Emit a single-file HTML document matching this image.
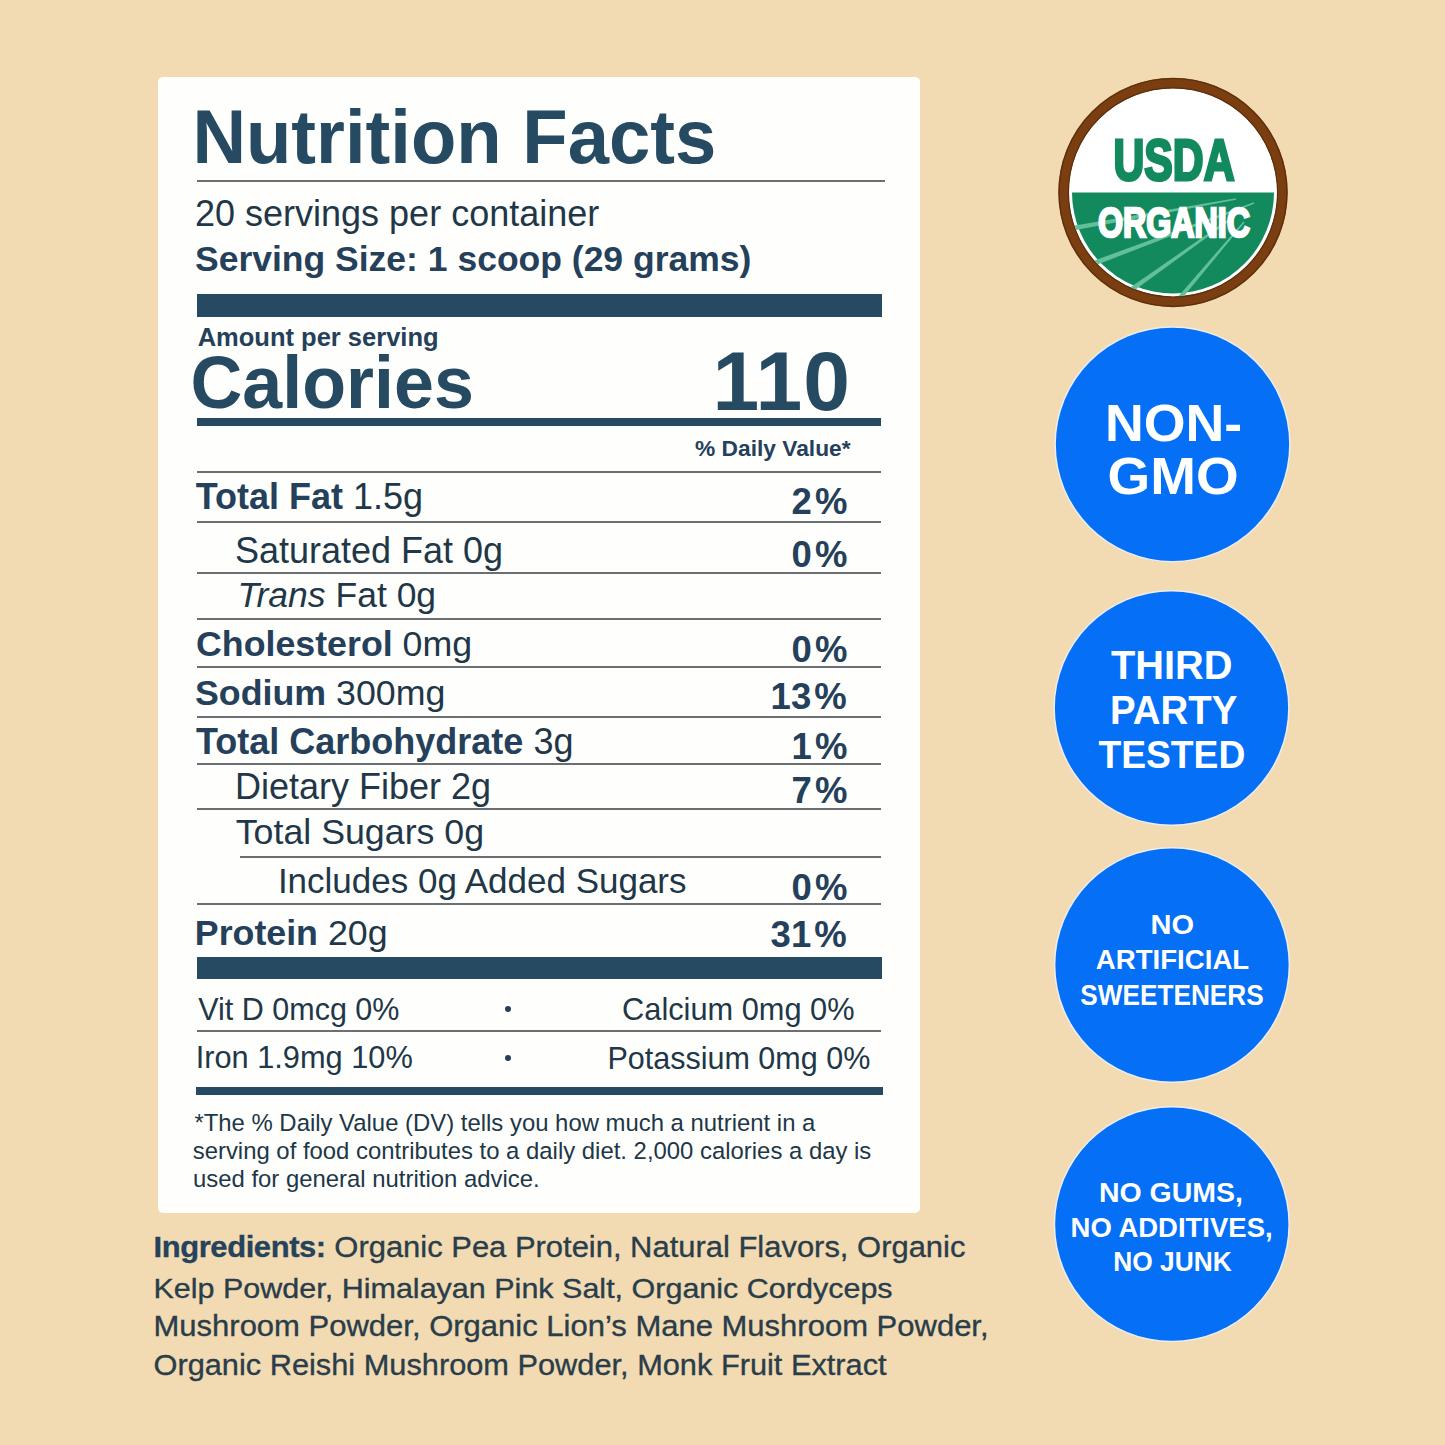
<!DOCTYPE html>
<html><head><meta charset="utf-8"><title>Nutrition Facts</title>
<style>
html,body{margin:0;padding:0;}
body{width:1445px;height:1445px;background:#f2dab2;position:relative;overflow:hidden;font-family:"Liberation Sans",sans-serif;}
.card{position:absolute;left:158px;top:77px;width:762px;height:1136px;background:#fefefd;border-radius:5px;}
.t{position:absolute;white-space:pre;}
.r{position:absolute;}
.dot{position:absolute;width:6px;height:6px;border-radius:50%;background:#25405a;}
.svg{position:absolute;left:0;top:0;}
.ing{-webkit-text-stroke:0.35px currentColor;}
</style></head><body>
<div class="card"></div>
<div class="t" style="left:192.40px;top:100.98px;font-size:74.25px;line-height:74.25px;color:#264a62;transform-origin:0 61.92px;transform:scaleY(1.035);"><span style="font-weight:700">Nutrition Facts</span></div>
<div class="r" style="left:197px;top:180px;width:688px;height:2px;background:#6c6f72"></div>
<div class="t" style="left:195.00px;top:196.28px;font-size:36px;line-height:36px;color:#25405a;"><span style="font-weight:400;color:#213747">20 servings per container</span></div>
<div class="t" style="left:195.00px;top:241.89px;font-size:35.5px;line-height:35.5px;color:#25405a;"><span style="font-weight:700">Serving Size: 1 scoop (29 grams)</span></div>
<div class="r" style="left:197px;top:294px;width:685px;height:23px;background:#264a62"></div>
<div class="t" style="left:197.70px;top:324.73px;font-size:25.5px;line-height:25.5px;color:#25405a;"><span style="font-weight:700">Amount per serving</span></div>
<div class="t" style="left:190.50px;top:347.52px;font-size:71.8px;line-height:71.8px;color:#264a62;transform-origin:0 59.88px;transform:scaleY(1.02);"><span style="font-weight:700">Calories</span></div>
<div class="t" style="left:712.50px;top:339.14px;font-size:84px;line-height:84px;color:#264a62;letter-spacing:1px"><span style="font-weight:700">110</span></div>
<div class="r" style="left:197px;top:418px;width:684px;height:8px;background:#264a62"></div>
<div class="t" style="left:695.00px;top:436.83px;font-size:22.75px;line-height:22.75px;color:#25405a;"><span style="font-weight:700">% Daily Value*</span></div>
<div class="r" style="left:197px;top:471px;width:684px;height:2px;background:#6c6f72"></div>
<div class="t" style="left:195.70px;top:479.18px;font-size:36px;line-height:36px;color:#25405a;"><span style="font-weight:700">Total Fat </span><span style="font-weight:400;color:#213747">1.5g</span></div>
<div class="t" style="left:791.60px;top:483.86px;font-size:36.5px;line-height:36.5px;color:#25405a;"><span style="font-weight:700"><span style="letter-spacing:3px">2</span>%</span></div>
<div class="t" style="left:234.90px;top:533.18px;font-size:36px;line-height:36px;color:#25405a;"><span style="font-weight:400;color:#213747">Saturated Fat 0g</span></div>
<div class="t" style="left:791.60px;top:536.86px;font-size:36.5px;line-height:36.5px;color:#25405a;"><span style="font-weight:700"><span style="letter-spacing:3px">0</span>%</span></div>
<div class="t" style="left:237.50px;top:578.39px;font-size:35.5px;line-height:35.5px;color:#25405a;"><span style="font-style:italic;font-weight:400;color:#213747">Trans</span><span style="font-weight:400;color:#213747"> Fat 0g</span></div>
<div class="t" style="left:196.00px;top:627.18px;font-size:35.75px;line-height:35.75px;color:#25405a;"><span style="font-weight:700">Cholesterol </span><span style="font-weight:400;color:#213747">0mg</span></div>
<div class="t" style="left:791.60px;top:631.56px;font-size:36.5px;line-height:36.5px;color:#25405a;"><span style="font-weight:700"><span style="letter-spacing:3px">0</span>%</span></div>
<div class="t" style="left:195.00px;top:675.98px;font-size:35.75px;line-height:35.75px;color:#25405a;"><span style="font-weight:700">Sodium </span><span style="font-weight:400;color:#213747">300mg</span></div>
<div class="t" style="left:770.60px;top:679.26px;font-size:36.5px;line-height:36.5px;color:#25405a;"><span style="font-weight:700">1<span style="letter-spacing:3px">3</span>%</span></div>
<div class="t" style="left:196.00px;top:723.58px;font-size:36px;line-height:36px;color:#25405a;"><span style="font-weight:700">Total Carbohydrate </span><span style="font-weight:400;color:#213747">3g</span></div>
<div class="t" style="left:791.60px;top:729.26px;font-size:36.5px;line-height:36.5px;color:#25405a;"><span style="font-weight:700"><span style="letter-spacing:3px">1</span>%</span></div>
<div class="t" style="left:235.00px;top:768.98px;font-size:36px;line-height:36px;color:#25405a;"><span style="font-weight:400;color:#213747">Dietary Fiber 2g</span></div>
<div class="t" style="left:791.60px;top:773.26px;font-size:36.5px;line-height:36.5px;color:#25405a;"><span style="font-weight:700"><span style="letter-spacing:3px">7</span>%</span></div>
<div class="t" style="left:235.70px;top:814.78px;font-size:35.75px;line-height:35.75px;color:#25405a;"><span style="font-weight:400;color:#213747">Total Sugars 0g</span></div>
<div class="t" style="left:277.90px;top:863.11px;font-size:35px;line-height:35px;color:#25405a;"><span style="font-weight:400;color:#213747">Includes 0g Added Sugars</span></div>
<div class="t" style="left:791.60px;top:869.56px;font-size:36.5px;line-height:36.5px;color:#25405a;"><span style="font-weight:700"><span style="letter-spacing:3px">0</span>%</span></div>
<div class="t" style="left:194.80px;top:915.98px;font-size:35.75px;line-height:35.75px;color:#25405a;"><span style="font-weight:700">Protein </span><span style="font-weight:400;color:#213747">20g</span></div>
<div class="t" style="left:770.60px;top:916.56px;font-size:36.5px;line-height:36.5px;color:#25405a;"><span style="font-weight:700">3<span style="letter-spacing:3px">1</span>%</span></div>
<div class="r" style="left:197px;top:521px;width:684px;height:2px;background:#6c6f72"></div>
<div class="r" style="left:197px;top:572px;width:684px;height:2px;background:#6c6f72"></div>
<div class="r" style="left:197px;top:618px;width:684px;height:2px;background:#6c6f72"></div>
<div class="r" style="left:197px;top:666px;width:684px;height:2px;background:#6c6f72"></div>
<div class="r" style="left:197px;top:716px;width:684px;height:2px;background:#6c6f72"></div>
<div class="r" style="left:197px;top:763px;width:684px;height:2px;background:#6c6f72"></div>
<div class="r" style="left:197px;top:808px;width:684px;height:2px;background:#6c6f72"></div>
<div class="r" style="left:240px;top:856px;width:641px;height:2px;background:#6c6f72"></div>
<div class="r" style="left:197px;top:903px;width:684px;height:2px;background:#6c6f72"></div>
<div class="r" style="left:197px;top:957px;width:685px;height:22px;background:#264a62"></div>
<div class="t" style="left:198.30px;top:993.86px;font-size:30.5px;line-height:30.5px;color:#25405a;"><span style="font-weight:400;color:#213747">Vit D 0mcg 0%</span></div>
<div class="t" style="left:622.10px;top:994.65px;font-size:30.75px;line-height:30.75px;color:#25405a;"><span style="font-weight:400;color:#213747">Calcium 0mg 0%</span></div>
<div class="r" style="left:197px;top:1030px;width:684px;height:2px;background:#6c6f72"></div>
<div class="t" style="left:195.70px;top:1042.65px;font-size:30.75px;line-height:30.75px;color:#25405a;"><span style="font-weight:400;color:#213747">Iron 1.9mg 10%</span></div>
<div class="t" style="left:607.50px;top:1043.16px;font-size:30.5px;line-height:30.5px;color:#25405a;"><span style="font-weight:400;color:#213747">Potassium 0mg 0%</span></div>
<div class="dot" style="left:505px;top:1006px"></div>
<div class="dot" style="left:505px;top:1054.5px"></div>
<div class="r" style="left:196px;top:1087px;width:687px;height:8px;background:#264a62"></div>
<div class="t" style="left:194.40px;top:1111.17px;font-size:23.9px;line-height:23.9px;color:#25405a;"><span style="font-weight:400;color:#213747">*The % Daily Value (DV) tells you how much a nutrient in a</span></div>
<div class="t" style="left:192.70px;top:1139.07px;font-size:23.9px;line-height:23.9px;color:#25405a;"><span style="font-weight:400;color:#213747">serving of food contributes to a daily diet. 2,000 calories a day is</span></div>
<div class="t" style="left:193.00px;top:1167.27px;font-size:23.9px;line-height:23.9px;color:#25405a;"><span style="font-weight:400;color:#213747">used for general nutrition advice.</span></div>
<div class="t ing" style="left:153.50px;top:1232.29px;font-size:30.95px;line-height:30.95px;color:#293d4a;transform-origin:0 25.81px;transform:scaleY(0.93)"><span style="font-weight:700;color:#25435a;letter-spacing:-0.4px">Ingredients:</span> Organic Pea Protein, Natural Flavors, Organic</div>
<div class="t ing" style="left:153.50px;top:1272.06px;font-size:30.5px;line-height:30.5px;color:#293d4a;transform-origin:0 25.44px;transform:scaleY(0.93)">Kelp Powder, Himalayan Pink Salt, Organic Cordyceps</div>
<div class="t ing" style="left:153.50px;top:1310.45px;font-size:31px;line-height:31px;color:#293d4a;transform-origin:0 25.85px;transform:scaleY(0.93)">Mushroom Powder, Organic Lion’s Mane Mushroom Powder,</div>
<div class="t ing" style="left:153.50px;top:1350.35px;font-size:30.75px;line-height:30.75px;color:#293d4a;transform-origin:0 25.65px;transform:scaleY(0.93)">Organic Reishi Mushroom Powder, Monk Fruit Extract</div>
<svg class="svg" width="1445" height="1445" viewBox="0 0 1445 1445">
<defs><clipPath id="lower"><path d="M 1069 192.4 A 104 104 0 0 0 1277 192.4 Z"/></clipPath></defs>
<circle cx="1173" cy="192.4" r="109.5" fill="#fff" stroke="#7a3e10" stroke-width="10.5"/>
<circle cx="1173" cy="192.4" r="113.9" fill="none" stroke="#5a300c" stroke-width="1.2"/>
<circle cx="1173" cy="192.4" r="104.6" fill="none" stroke="#5a300c" stroke-width="1.2"/>
<path d="M 1072 192.4 A 101 101 0 0 0 1274 192.4 Z" fill="#128a5e"/>
<g clip-path="url(#lower)" fill="#62bf98">
<polygon points="1074.4,230.3 1236.1,199.8 1235.9,198.2 1073.6,225.7"/>
<polygon points="1092.9,266.3 1254.3,203.7 1253.7,202.3 1091.1,261.7"/>
<polygon points="1129.4,294.0 1232.5,218.7 1231.5,217.3 1126.6,290.0"/>
<polygon points="1179.6,301.4 1244.6,222.5 1243.4,221.5 1176.4,298.6"/>
</g>
<text x="1113.5" y="179.6" font-family="Liberation Sans" font-weight="700" font-size="58" fill="#128a5e" stroke="#128a5e" stroke-width="3" textLength="121" lengthAdjust="spacingAndGlyphs">USDA</text>
<text x="1098" y="236.9" font-family="Liberation Sans" font-weight="700" font-size="43" fill="#fff" stroke="#fff" stroke-width="2.6" textLength="152" lengthAdjust="spacingAndGlyphs">ORGANIC</text>
<circle cx="1172.5" cy="444.3" r="117.3" fill="none" stroke="#e9eef6" stroke-width="1.6"/>
<circle cx="1172.5" cy="444.3" r="116.6" fill="#0570f6"/>
<text x="1104.9" y="440.5" font-family="Liberation Sans" font-weight="700" font-size="52.2" fill="#fff" textLength="137.4" lengthAdjust="spacingAndGlyphs">NON-</text>
<text x="1107.6" y="493.5" font-family="Liberation Sans" font-weight="700" font-size="52.7" fill="#fff" textLength="131.2" lengthAdjust="spacingAndGlyphs">GMO</text>
<circle cx="1171.5" cy="708" r="117.3" fill="none" stroke="#e9eef6" stroke-width="1.6"/>
<circle cx="1171.5" cy="708" r="116.6" fill="#0570f6"/>
<text x="1110.9" y="679" font-family="Liberation Sans" font-weight="700" font-size="40.2" fill="#fff" textLength="121.5" lengthAdjust="spacingAndGlyphs">THIRD</text>
<text x="1110.0" y="723.9" font-family="Liberation Sans" font-weight="700" font-size="40.6" fill="#fff" textLength="127.3" lengthAdjust="spacingAndGlyphs">PARTY</text>
<text x="1098.4" y="768" font-family="Liberation Sans" font-weight="700" font-size="39.0" fill="#fff" textLength="146.9" lengthAdjust="spacingAndGlyphs">TESTED</text>
<circle cx="1172" cy="965" r="117.3" fill="none" stroke="#e9eef6" stroke-width="1.6"/>
<circle cx="1172" cy="965" r="116.6" fill="#0570f6"/>
<text x="1150.5" y="933.6" font-family="Liberation Sans" font-weight="700" font-size="28.2" fill="#fff" textLength="43.5" lengthAdjust="spacingAndGlyphs">NO</text>
<text x="1095.8" y="969.2" font-family="Liberation Sans" font-weight="700" font-size="28.4" fill="#fff" textLength="153.4" lengthAdjust="spacingAndGlyphs">ARTIFICIAL</text>
<text x="1080.3" y="1004.6" font-family="Liberation Sans" font-weight="700" font-size="28.9" fill="#fff" textLength="183.4" lengthAdjust="spacingAndGlyphs">SWEETENERS</text>
<circle cx="1171.8" cy="1224.2" r="117.3" fill="none" stroke="#e9eef6" stroke-width="1.6"/>
<circle cx="1171.8" cy="1224.2" r="116.6" fill="#0570f6"/>
<text x="1098.9" y="1201.7" font-family="Liberation Sans" font-weight="700" font-size="27.7" fill="#fff" textLength="144.0" lengthAdjust="spacingAndGlyphs">NO GUMS,</text>
<text x="1070.6" y="1236.7" font-family="Liberation Sans" font-weight="700" font-size="27.5" fill="#fff" textLength="202.0" lengthAdjust="spacingAndGlyphs">NO ADDITIVES,</text>
<text x="1113.3" y="1271" font-family="Liberation Sans" font-weight="700" font-size="27.8" fill="#fff" textLength="118.5" lengthAdjust="spacingAndGlyphs">NO JUNK</text>
</svg>
</body></html>
